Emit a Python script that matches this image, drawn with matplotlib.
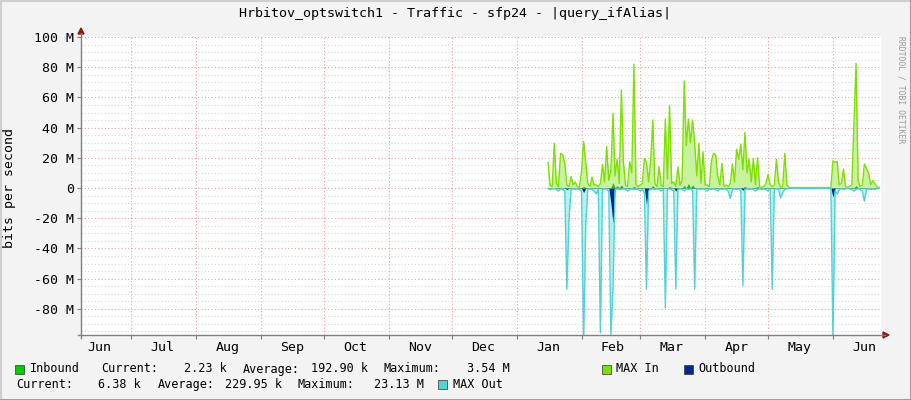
import datetime as dt
import matplotlib
matplotlib.use("Agg")
import matplotlib.pyplot as plt
import matplotlib.dates as mdates
from matplotlib.lines import Line2D
from matplotlib.patches import Rectangle, Polygon
from matplotlib.ticker import MultipleLocator, FuncFormatter

# daily samples starting at first_day, values in Mbit/s
first_day = dt.date(2019, 1, 16)

max_in = [
    17, 2, 1, 29.6, 3, 1, 23, 22, 16, 2,
    1, 7.5, 2, 4, 1, 0.5, 10.8, 30.7, 17, 3,
    1, 7.3, 2, 2, 1, 3, 15.7, 4, 27.4, 5,
    11, 49.4, 8, 19, 3, 64.9, 17, 2, 1, 17.4,
    10, 82, 2, 1, 2, 3, 19.6, 17, 4, 18,
    45, 3, 1, 14, 2, 1, 45.7, 6, 54.5, 3,
    4, 1, 14, 2, 5, 70.8, 28, 45.7, 30, 45,
    29.6, 8, 29.6, 3, 24, 2, 2, 1, 18, 23,
    22, 8, 2, 16.3, 1, 2, 1, 3, 16, 4,
    25.6, 19, 29, 12, 36.9, 10, 19, 4, 19.6, 2,
    20, 1, 0.5, 1, 3, 9, 2, 1, 2, 19,
    4, 0.5, 1, 23, 2, 0.3, 0.3, 0.3, 0.3, 0.3,
    0.3, 0.3, 0.3, 0.3, 0.3, 0.3, 0.3, 0.3, 0.3, 0.3,
    0.3, 0.3, 0.3, 0.3, 0.3, 0.3, 18, 17, 17.6, 2,
    3, 12.4, 1, 0.3, 1, 2, 42.8, 82.5, 5, 1,
    2, 16, 13, 10, 2, 5, 3, 0.5, 0.4,
]

max_out = [
    0.5, 1, 0.5, 0.5, 1, 2, 0.5, 1, 2, 67,
    21, 1, 0.5, 1, 0.5, 1, 2, 100, 25, 1,
    0.5, 1, 2, 4, 1, 96, 1, 0.5, 1, 2,
    97, 67, 1, 0.5, 1, 1, 0.5, 1, 2, 1,
    0.5, 1, 0.5, 1, 2, 1, 3, 67, 2, 1,
    0.5, 1, 0.5, 1, 2, 1, 79.4, 1, 0.5, 1,
    2, 67, 1, 0.5, 1, 2, 0.5, 1, 0.5, 2,
    67, 1, 0.5, 1, 0.5, 1, 2, 0.5, 1, 0.5,
    1, 2, 0.5, 1, 0.5, 1, 2, 7, 1, 0.5,
    1, 0.5, 2, 64.7, 1, 0.5, 1, 0.5, 1, 2,
    1, 0.5, 1, 0.5, 1, 2, 0.5, 67, 1, 0.5,
    1, 6.6, 3, 1, 0.5, 0.3, 0.3, 0.3, 0.3, 0.3,
    0.3, 0.3, 0.3, 0.3, 0.3, 0.3, 0.3, 0.3, 0.3, 0.3,
    0.3, 0.3, 0.3, 0.3, 0.3, 0.3, 100, 2, 4, 1,
    0.5, 1, 0.5, 0.3, 0.5, 1, 2, 1, 0.5, 1,
    2, 8.8, 1, 0.5, 1, 0.5, 1, 0.5, 0.3,
]

inbound = [0.2] * len(max_in)
for i, v in [(17, 1), (31, 3.5), (33, 1.5), (35, 2), (41, 1), (50, 1.5),
             (58, 1), (65, 1.5), (67, 3), (69, 2), (94, 1), (100, 1), (147, 1.5)]:
    inbound[i] = v

outbound = [0.2] * len(max_out)
for i, v in [(9, 1), (17, 3), (30, 10), (31, 23.6), (47, 11), (61, 2),
             (93, 1.5), (136, 6)]:
    outbound[i] = v

month_names = "%b"
title = "Hrbitov_optswitch1 - Traffic - sfp24 - |query_ifAlias|"

days = [first_day + dt.timedelta(days=i) for i in range(len(max_in))]

W, H = 911, 400
def px(x):
    return x / W
def py(y):
    return 1 - y / H

mono = "DejaVu Sans Mono"
plt.rcParams["font.family"] = mono

fig = plt.figure(figsize=(9.11, 4.0), dpi=100, facecolor="#F3F3F3")
ax = fig.add_axes([px(81), py(335), px(881) - px(81), py(37) - py(335)])
ax.set_facecolor("white")

# series
neg_max_out = [-v for v in max_out]
neg_outbound = [-v for v in outbound]
ax.fill_between(days, 0, max_in, color="#C8F29E", lw=0, zorder=2)
ax.fill_between(days, 0, inbound, color="#00CC00", lw=0, zorder=3)
ax.plot(days, max_in, color="#7EE000", lw=1.0, zorder=4)
ax.fill_between(days, 0, neg_max_out, color="#B8EFEF", lw=0, zorder=2)
ax.fill_between(days, 0, neg_outbound, color="#002A97", lw=0, zorder=3)
ax.plot(days, neg_max_out, color="#4FD3D3", lw=1.0, zorder=4)

ax.set_xlim(dt.datetime(2018, 6, 7, 3), dt.datetime(2019, 6, 23, 22))
ax.set_ylim(-97.35, 100)

ax.yaxis.set_major_locator(MultipleLocator(20))
ax.yaxis.set_minor_locator(MultipleLocator(5))
ax.yaxis.set_major_formatter(FuncFormatter(lambda v, p: "0" if abs(v) < 1e-9 else "%d M" % round(v)))
ax.xaxis.set_major_locator(mdates.MonthLocator())
ax.xaxis.set_major_formatter(plt.NullFormatter())
ax.xaxis.set_minor_locator(mdates.MonthLocator(bymonthday=16))
ax.xaxis.set_minor_formatter(mdates.DateFormatter(month_names))

ax.grid(which="minor", axis="y", color="#D8D8D8", ls=(0, (1, 2)), lw=0.8, zorder=1)
ax.grid(which="major", axis="y", color="#EBA3A3", ls=(0, (1, 2)), lw=0.8, zorder=1)
ax.grid(which="major", axis="x", color="#EBA3A3", ls=(0, (1, 2)), lw=0.8, zorder=1)

ax.tick_params(axis="y", which="major", length=3, color="#808080", labelsize=9.5, pad=2)
ax.tick_params(axis="y", which="minor", length=0)
ax.tick_params(axis="x", which="major", length=3, color="#808080")
ax.tick_params(axis="x", which="minor", length=0, labelsize=9.5, pad=4)
for s in ax.spines.values():
    s.set_visible(False)

# axis lines with arrows
fig.add_artist(Line2D([px(81), px(81)], [py(338), py(33)], color="#808080", lw=1))
fig.add_artist(Line2D([px(78), px(885)], [py(335), py(335)], color="#808080", lw=1))
fig.add_artist(Polygon([[px(78), py(34)], [px(84), py(34)], [px(81), py(28)]],
                       closed=True, color="#8B1A1A", transform=fig.transFigure))
fig.add_artist(Polygon([[px(883), py(332)], [px(883), py(338)], [px(889), py(335)]],
                       closed=True, color="#8B1A1A", transform=fig.transFigure))

# texts
fig.text(px(455), py(14), title, ha="center", va="center", fontsize=9.6)
fig.text(px(10), py(188), "bits per second", rotation=90, ha="center", va="center", fontsize=9.5)
fig.text(px(901), py(90), "RRDTOOL / TOBI OETIKER", rotation=270, ha="center", va="center",
         fontsize=5.8, color="#9A9A9A")

# legend
def square(x, y, color):
    fig.add_artist(Rectangle((px(x), py(y + 9)), 9 / W, 9 / H, facecolor=color,
                             edgecolor="#333333", lw=0.5, transform=fig.transFigure))

def txt(x, y, s, ha="left"):
    fig.text(px(x), py(y), s, ha=ha, va="center", fontsize=8.5)

r1, r2 = 369, 384.5
square(15, r1 - 4.5, "#00CC00")
txt(30, r1, "Inbound")
txt(101, r1, "Current:")
txt(227, r1, "2.23 k", "right")
txt(243, r1, "Average:")
txt(368, r1, "192.90 k", "right")
txt(383, r1, "Maximum:")
txt(510, r1, "3.54 M", "right")
square(602, r1 - 4.5, "#7EE000")
txt(616, r1, "MAX In")
square(684, r1 - 4.5, "#002A97")
txt(698, r1, "Outbound")

txt(16, r2, "Current:")
txt(141, r2, "6.38 k", "right")
txt(158, r2, "Average:")
txt(282, r2, "229.95 k", "right")
txt(298, r2, "Maximum:")
txt(424, r2, "23.13 M", "right")
square(438, r2 - 4.5, "#4FD3D3")
txt(453, r2, "MAX Out")

# 3d border
fig.add_artist(Line2D([0, 1], [py(0.5), py(0.5)], color="#CFCFCF", lw=1.5))
fig.add_artist(Line2D([px(0.5), px(0.5)], [0, 1], color="#CFCFCF", lw=1.5))
fig.add_artist(Line2D([0, 1], [py(399.5), py(399.5)], color="#9E9E9E", lw=1.5))
fig.add_artist(Line2D([px(910.5), px(910.5)], [0, 1], color="#9E9E9E", lw=1.5))

fig.savefig("out.png", dpi=100, facecolor=fig.get_facecolor())
